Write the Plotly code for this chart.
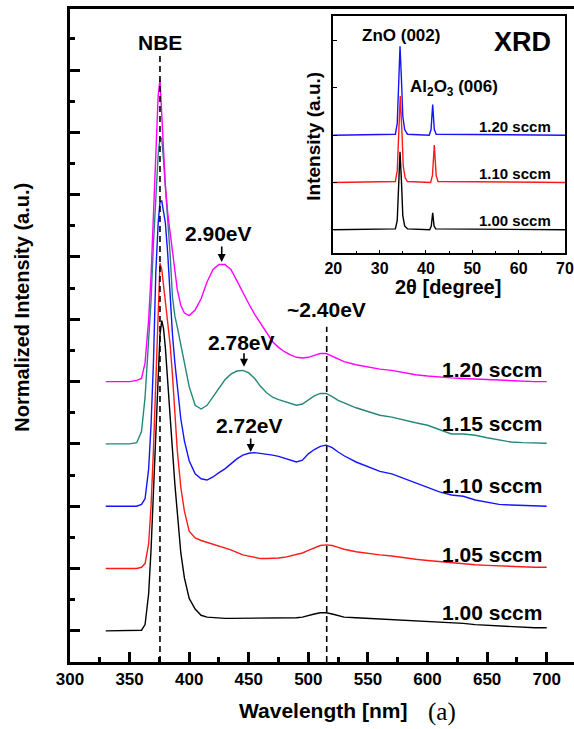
import plotly.graph_objects as go

# ---------------- data ----------------
wavelength = [330, 350, 356, 360, 363, 366, 368, 370, 372, 374, 375.5, 377, 378.5, 380, 382, 384, 386, 388,
              390, 393, 396, 400, 405, 410, 415, 420, 425, 430, 435, 440, 445, 450, 455, 460, 465, 470,
              475, 480, 485, 490, 495, 500, 505, 510, 515, 520, 525, 530, 540, 550, 560, 570, 580, 590,
              600, 610, 620, 630, 640, 650, 660, 670, 680, 690, 700]

pl_100 = [0.0, 0.0, 0.0, 0.01, 0.1, 0.6, 1.3, 2.2, 3.3, 4.25, 4.75, 4.98, 4.85, 4.55, 4.05, 3.45, 2.9, 2.35,
          1.85, 1.25, 0.85, 0.52, 0.35, 0.25, 0.22, 0.21, 0.2, 0.2, 0.2, 0.2, 0.2, 0.2, 0.2, 0.2, 0.2, 0.2,
          0.21, 0.21, 0.21, 0.21, 0.22, 0.25, 0.27, 0.29, 0.29, 0.27, 0.24, 0.22, 0.21, 0.2, 0.2, 0.19, 0.18, 0.17,
          0.16, 0.15, 0.14, 0.12, 0.1, 0.09, 0.08, 0.065, 0.055, 0.05, 0.05]

pl_105 = [1.0, 1.0, 1.0, 1.02, 1.08, 1.4, 2.0, 2.9, 4.0, 5.2, 5.9, 5.8, 5.55, 5.25, 4.95, 4.6, 4.1, 3.5,
          2.9, 2.3, 1.92, 1.6, 1.49, 1.45, 1.42, 1.39, 1.37, 1.34, 1.3, 1.26, 1.22, 1.2, 1.18, 1.16, 1.16, 1.16,
          1.17, 1.18, 1.2, 1.22, 1.25, 1.29, 1.33, 1.37, 1.38, 1.37, 1.34, 1.31, 1.27, 1.24, 1.22, 1.2, 1.17, 1.15,
          1.13, 1.11, 1.09, 1.08, 1.06, 1.05, 1.04, 1.03, 1.02, 1.02, 1.02]

pl_110 = [2.0, 2.0, 2.0, 2.03, 2.12, 2.6, 3.3, 4.3, 5.75, 6.55, 6.88, 6.9, 6.75, 6.55, 6.05, 5.3, 4.75, 4.3,
          3.9, 3.4, 3.05, 2.73, 2.52, 2.44, 2.42, 2.47, 2.54, 2.6, 2.68, 2.76, 2.82, 2.85, 2.86, 2.85, 2.84, 2.82,
          2.8, 2.77, 2.74, 2.71, 2.74, 2.84, 2.91, 2.96, 2.98, 2.94, 2.87, 2.81, 2.71, 2.63, 2.56, 2.52, 2.45, 2.37,
          2.3, 2.23, 2.18, 2.16, 2.1, 2.06, 2.03, 2.02, 2.01, 2.0, 2.0]

pl_115 = [3.0, 3.0, 3.02, 3.2, 3.75, 4.6, 5.3, 6.2, 7.05, 7.65, 7.92, 7.9, 7.55, 7.15, 6.7, 6.05, 5.35, 5.05,
          4.88, 4.6, 4.3, 3.92, 3.62, 3.56, 3.62, 3.75, 3.9, 4.03, 4.12, 4.17, 4.18, 4.14, 4.05, 3.92, 3.82, 3.75,
          3.71, 3.68, 3.65, 3.62, 3.64, 3.71, 3.77, 3.81, 3.81, 3.76, 3.7, 3.66, 3.58, 3.52, 3.46, 3.43, 3.38, 3.34,
          3.3, 3.23, 3.16, 3.16, 3.14, 3.1, 3.06, 3.03, 3.02, 3.01, 3.01]

pl_120 = [4.0, 4.0, 4.02, 4.05, 4.3, 5.0, 5.7, 6.6, 7.6, 8.6, 8.85, 8.3, 7.75, 7.15, 6.7, 6.4, 6.05, 5.75,
          5.48, 5.22, 5.1, 5.06, 5.15, 5.33, 5.6, 5.8, 5.88, 5.88, 5.8, 5.62, 5.43, 5.25, 5.08, 4.93, 4.77, 4.64,
          4.55, 4.48, 4.43, 4.39, 4.38, 4.39, 4.42, 4.45, 4.45, 4.41, 4.36, 4.32, 4.27, 4.23, 4.2, 4.18, 4.14, 4.11,
          4.09, 4.07, 4.06, 4.05, 4.04, 4.03, 4.02, 4.01, 4.0, 4.0, 4.0]

pl_series = ["1.00 sccm", "1.05 sccm", "1.10 sccm", "1.15 sccm", "1.20 sccm"]
pl_colors = ["#000000", "#ff1a1a", "#1414ff", "#24877a", "#ff00ff"]

# XRD inset data (2theta in degrees, stacked intensity)
xrd_tt_120 = [20, 33.4, 33.8, 34.1, 34.4, 34.7, 35.0, 35.4, 36.0, 40.7, 41.1, 41.45, 41.8, 42.2, 70]
xrd_i_120 = [2.5, 2.52, 2.75, 3.6, 4.38, 3.7, 2.9, 2.62, 2.52, 2.5, 2.62, 3.15, 2.62, 2.52, 2.5]
xrd_tt_110 = [20, 33.4, 33.8, 34.1, 34.45, 34.8, 35.1, 35.5, 36.0, 41.0, 41.4, 41.8, 42.2, 42.6, 70]
xrd_i_110 = [1.5, 1.52, 1.75, 2.6, 3.33, 2.6, 1.85, 1.6, 1.52, 1.5, 1.65, 2.29, 1.65, 1.52, 1.5]
xrd_tt_100 = [20, 33.4, 33.8, 34.1, 34.4, 34.7, 35.0, 35.4, 36.0, 40.8, 41.15, 41.45, 41.75, 42.1, 70]
xrd_i_100 = [0.5, 0.52, 0.7, 1.5, 2.15, 1.55, 0.8, 0.58, 0.52, 0.5, 0.58, 0.86, 0.58, 0.52, 0.5]
xrd_series = ["1.20 sccm", "1.10 sccm", "1.00 sccm"]
xrd_colors = ["#1414ff", "#ff1a1a", "#000000"]

x_ticks = [300, 350, 400, 450, 500, 550, 600, 650, 700]
xrd_ticks = [20, 30, 40, 50, 60, 70]
nbe_nm = 375.5
green_nm = 515.4

FONT = "Liberation Sans, Arial, Helvetica, sans-serif"

fig = go.Figure()

for name, ys, col in zip(pl_series, [pl_100, pl_105, pl_110, pl_115, pl_120], pl_colors):
    fig.add_trace(go.Scatter(x=wavelength, y=ys, mode="lines", name=name,
                             line=dict(color=col, width=1.4), xaxis="x", yaxis="y",
                             showlegend=False, hoverinfo="skip"))

for name, xs, ys, col in zip(xrd_series, [xrd_tt_120, xrd_tt_110, xrd_tt_100],
                             [xrd_i_120, xrd_i_110, xrd_i_100], xrd_colors):
    fig.add_trace(go.Scatter(x=xs, y=ys, mode="lines", name=name,
                             line=dict(color=col, width=1.4), xaxis="x2", yaxis="y2",
                             showlegend=False, hoverinfo="skip"))

# dashed reference lines
fig.add_shape(type="line", xref="x", yref="y", x0=nbe_nm, x1=nbe_nm, y0=-0.5, y1=9.24,
              line=dict(color="black", width=1.6, dash="6px,4px"))
fig.add_shape(type="line", xref="x", yref="y", x0=green_nm, x1=green_nm, y0=-0.5, y1=4.88,
              line=dict(color="black", width=1.6, dash="6px,4px"))

ann = []
def txt(x, y, s, size, xref="x", yref="y", xanchor="center", family=FONT, bold=True, angle=0):
    ann.append(dict(x=x, y=y, xref=xref, yref=yref, text=("<b>%s</b>" % s) if bold else s,
                    showarrow=False, xanchor=xanchor, yanchor="middle", textangle=angle,
                    font=dict(family=family, size=size, color="black")))

def arrow(x, y, ay):
    ann.append(dict(x=x, y=y, xref="x", yref="y", text="", showarrow=True, ax=0, ay=ay,
                    arrowhead=2, arrowsize=1, arrowwidth=1.6, arrowcolor="black", standoff=0))

txt(375.5, 9.45, "NBE", 21)
txt(424.4, 6.38, "2.90eV", 21)
arrow(427.3, 5.92, -17)
txt(444.1, 4.62, "2.78eV", 21)
arrow(446.0, 4.24, -15)
txt(451.0, 3.29, "2.72eV", 21)
arrow(451.6, 2.87, -15)
txt(515.1, 5.15, "~2.40eV", 21)

for lab, yv in zip(["1.20 sccm", "1.15 sccm", "1.10 sccm", "1.05 sccm", "1.00 sccm"],
                   [4.20, 3.33, 2.34, 1.23, 0.30]):
    txt(697.7, yv, lab, 21, xanchor="right")

# axis titles
txt(0.501, -0.075, "Wavelength [nm]", 21, xref="paper", yref="paper")
txt(0.7375, -0.0766, "(a)", 25, xref="paper", yref="paper",
    family="Liberation Serif, Times New Roman, serif", bold=False)
txt(-0.0958, 0.5436, "Normalized Intensity (a.u.)", 20, xref="paper", yref="paper", angle=-90)

# inset texts
txt(34.57, 4.615, "ZnO (002)", 17, xref="x2", yref="y2")
txt(60.83, 4.47, "XRD", 27, xref="x2", yref="y2")
txt(46.05, 3.49, "Al<sub>2</sub>O<sub>3</sub> (006)", 17, xref="x2", yref="y2")
for lab, yv in zip(xrd_series, [2.68, 1.69, 0.70]):
    txt(67.48, yv, lab, 15, xref="x2", yref="y2", xanchor="right")
txt((447.5 - 70) / 504, 1 - (286.7 - 9) / 653, "2θ [degree]", 20, xref="paper", yref="paper")
txt((312.7 - 70) / 504, 1 - (136 - 9) / 653, "Intensity (a.u.)", 19, xref="paper", yref="paper", angle=-90)

fig.update_layout(
    width=574, height=729,
    margin=dict(l=70, r=0, t=9, b=67, autoexpand=False),
    paper_bgcolor="white", plot_bgcolor="white",
    showlegend=False,
    annotations=ann,
    xaxis=dict(range=[300, 722.9], showline=True, linewidth=3, linecolor="black", mirror=True,
               ticks="inside", ticklen=10, tickwidth=3, tickcolor="black",
               tickvals=x_ticks, ticktext=["<b>%d</b>" % v for v in x_ticks],
               minor=dict(ticks="inside", ticklen=5, tickwidth=3, tickcolor="black", dtick=25, tick0=300),
               tickfont=dict(family=FONT, size=17, color="black"), automargin=False,
               showgrid=False, zeroline=False, anchor="y", domain=[0, 1]),
    yaxis=dict(range=[-0.5, 9.98], showline=True, linewidth=3, linecolor="black",
               ticks="inside", ticklen=10, tickwidth=3, tickcolor="black", tick0=0, dtick=1,
               minor=dict(ticks="inside", ticklen=5, tickwidth=3, tickcolor="black", dtick=0.5, tick0=0),
               showticklabels=False, showgrid=False, zeroline=False, anchor="x", domain=[0, 1],
               automargin=False),
    xaxis2=dict(range=[20, 70], domain=[0.5224, 0.9821], anchor="y2", showline=True, linewidth=1.5,
                linecolor="black", mirror=True, ticks="inside", ticklen=4, tickwidth=1.2, tickcolor="black",
                tickvals=xrd_ticks, ticktext=["<b>%d</b>" % v for v in xrd_ticks],
                minor=dict(ticks="inside", ticklen=2.5, tickwidth=1.2, tickcolor="black", dtick=5, tick0=20),
                tickfont=dict(family=FONT, size=16, color="black"), automargin=False,
                showgrid=False, zeroline=False),
    yaxis2=dict(range=[0, 5.02], domain=[0.6257, 0.9893], anchor="x2", showline=True, linewidth=1.5,
                linecolor="black", mirror=True, ticks="inside", ticklen=4, tickwidth=1.2, tickcolor="black",
                tick0=0.5, dtick=1, showticklabels=False, showgrid=False, zeroline=False, automargin=False),
)

fig.write_html("out.html", config={"displayModeBar": False},
               post_script="document.body.style.margin='0';document.body.style.overflow='hidden';")
